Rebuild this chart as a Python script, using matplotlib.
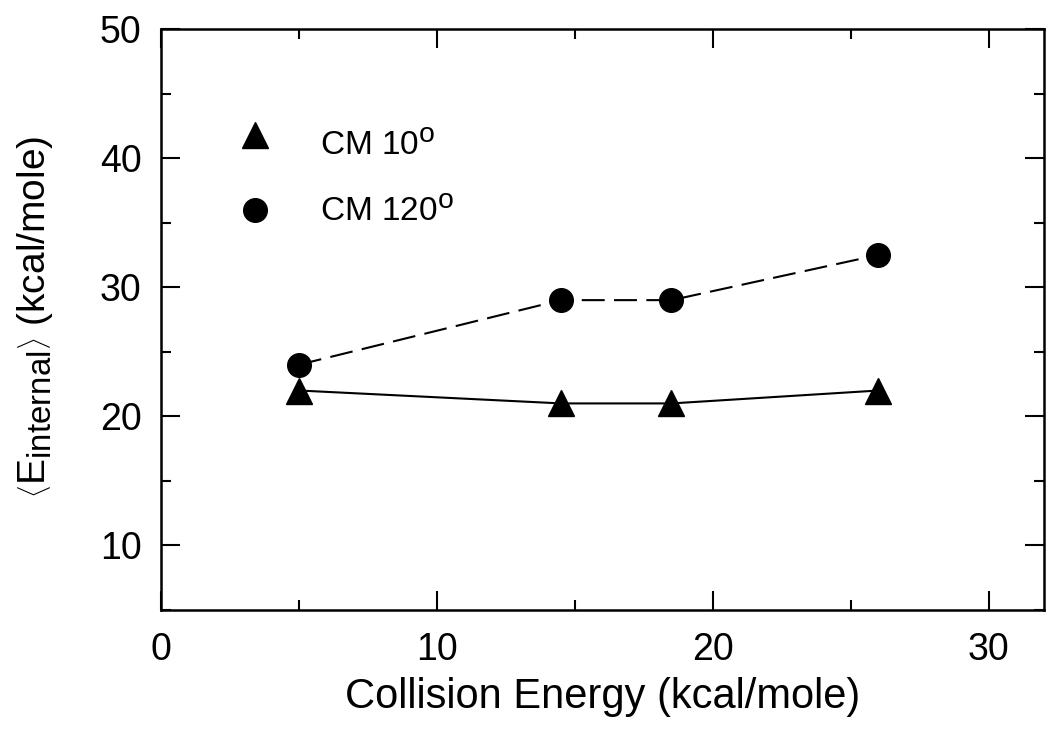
import matplotlib
matplotlib.use("Agg")
import matplotlib.pyplot as plt
import matplotlib._mathtext as _mt
from matplotlib.ticker import MultipleLocator

_mt.SHRINK_FACTOR = 0.85

plt.rcParams['font.family'] = ['Liberation Sans', 'DejaVu Sans']
plt.rcParams['mathtext.fontset'] = 'custom'
plt.rcParams['mathtext.rm'] = 'Liberation Sans'
plt.rcParams['mathtext.it'] = 'Liberation Sans'

energy = [5, 14.5, 18.5, 26]
cm10 = [22, 21, 21, 22]
cm120 = [24, 29, 29, 32.5]
labels = [r'CM 10$^{\rm o}$', r'CM 120$^{\rm o}$']

fig = plt.figure(figsize=(10.49, 7.56), dpi=100)
ax = fig.add_axes([161/1049, 1 - 610/756, (1044-161)/1049, (610-29)/756])

ax.plot(energy, cm10, '-', color='black', lw=1.5, marker='^', ms=19, mec='black', mfc='black')
ax.plot(energy, cm120, '--', color='black', lw=1.5, dashes=(11, 4.5), marker='o', ms=17, mec='black', mfc='black')

ax.set_xlim(0, 32)
ax.set_ylim(5, 50)
ax.xaxis.set_major_locator(MultipleLocator(10))
ax.xaxis.set_minor_locator(MultipleLocator(5))
ax.yaxis.set_minor_locator(MultipleLocator(5))
ax.set_yticks([10, 20, 30, 40, 50])
ax.tick_params(which='both', direction='in', top=True, right=True, width=1.5)
ax.tick_params(which='major', length=14, labelsize=27)
ax.tick_params(which='minor', length=7)
ax.tick_params(axis='x', pad=16)
ax.tick_params(axis='y', pad=14)
for s in ax.spines.values():
    s.set_linewidth(1.8)

ax.set_xlabel('Collision Energy (kcal/mole)', fontsize=30, labelpad=6)
ax.set_ylabel(r'$\left\langle \mathrm{E}_{\mathrm{internal}} \right\rangle$ (kcal/mole)', fontsize=28)
ax.yaxis.label.set_va('center')
ax.yaxis.set_label_coords(-0.143, 0.505)

# legend
ax.plot([3.4], [41.8], marker='^', ms=19, color='black', ls='none')
ax.plot([3.4], [36.0], marker='o', ms=17, color='black', ls='none')
ax.text(5.75, 40.9, labels[0], fontsize=24, va='center')
ax.text(5.75, 35.8, labels[1], fontsize=24, va='center')

fig.savefig('out.png', dpi=100)
